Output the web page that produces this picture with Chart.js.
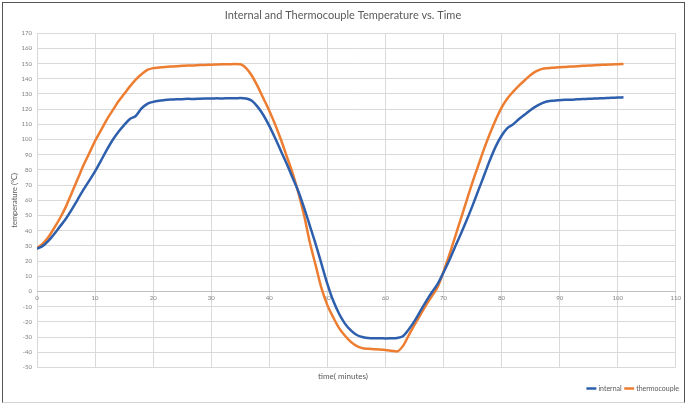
<!DOCTYPE html>
<html>
<head>
<meta charset="utf-8">
<script src="https://cdn.jsdelivr.net/npm/chart.js@4"></script>
<style>
  body { margin: 0; background: #fff; }
  #frame {
    position: absolute; left: 2px; top: 2px; width: 681px; height: 399px;
    border: 1px solid #555; border-bottom-color: #d4d4d4;
  }
</style>
</head>
<body>
<div id="frame"><canvas id="graph" width="681" height="399"></canvas></div>
<script>
// time in minutes
const minutes = [
  0, 1, 2, 3, 4, 5, 6, 7, 8, 9, 10, 11, 12, 13, 14, 15, 16, 17, 18, 19, 20,
  21, 22, 23, 24, 25, 26, 27, 28, 29, 30, 31, 32, 33, 34, 35, 36, 37, 38, 39, 40,
  41, 42, 43, 44, 45, 46, 47, 48, 49, 50, 51, 52, 53, 54, 55, 56, 57, 58, 59, 60,
  61, 62, 63, 64, 65, 66, 67, 68, 69, 70, 71, 72, 73, 74, 75, 76, 77, 78, 79, 80,
  81, 82, 83, 84, 85, 86, 87, 88, 89, 90, 91, 92, 93, 94, 95, 96, 97, 98, 99, 100, 101
];

const internal = [
  28, 30, 33.5, 38, 43, 48, 54, 60.5, 67, 73, 79,
  86, 93, 99.5, 105, 109.5, 113.5, 115.5, 120.5, 123.5, 124.8,
  125.6, 126, 126.3, 126.5, 126.6, 126.8, 126.7, 126.9, 127, 127,
  127.1, 127, 127.2, 127.2, 127.3, 127, 125.5, 121.5, 116, 109,
  101, 92.5, 84, 75, 66, 55, 43, 31, 18, 5,
  -6, -14.5, -21, -25.5, -28.5, -30, -30.6, -30.8, -30.8, -30.9,
  -30.8, -30.6, -29.5, -25, -19.5, -13, -6.5, -0.5, 5, 12.5,
  20.5, 29.5, 38, 47, 56.5, 66.5, 76.5, 86.5, 95.5, 102.5,
  107.5, 110, 113.5, 116.5, 119.5, 122, 124, 125.2, 125.6, 125.9,
  126.2, 126.2, 126.5, 126.7, 126.8, 127, 127.1, 127.3, 127.5, 127.6, 127.8
];

const thermocouple = [
  28.5, 31.5, 36, 42, 48.5, 56, 65, 74, 83, 91, 99,
  106, 113, 119, 125, 130, 135, 139.5, 143, 145.8, 147,
  147.4, 147.8, 148, 148.3, 148.5, 148.7, 148.8, 149, 149.1, 149.3,
  149.4, 149.5, 149.6, 149.7, 149.5, 147, 142, 135, 127, 119,
  110, 100, 89, 78, 65, 50, 32, 17, 2, -9,
  -17, -24, -29, -33, -35.8, -37.3, -37.8, -38, -38.2, -38.5,
  -39, -39.5, -36, -29, -22, -15.5, -9, -3, 3, 13,
  24, 36, 48, 60, 72, 83, 94, 104, 113, 121,
  127, 131.5, 135.5, 139, 142.5, 145, 146.5, 147, 147.3, 147.6,
  147.8, 148, 148.3, 148.5, 148.7, 148.9, 149.1, 149.3, 149.4, 149.6, 149.7
];

const textGrey = "#595959";
const gridGrey = "#d9d9d9";

function toPoints(values) {
  return values.map((v, i) => ({ x: minutes[i], y: v }));
}

const ctx = document.getElementById("graph").getContext("2d");
const myChart = new Chart(ctx, {
  type: "line",
  data: {
    datasets: [
      {
        label: "internal",
        data: toPoints(internal),
        borderColor: "#2e5fad",
        backgroundColor: "#2e5fad",
        borderWidth: 2.5,
        pointRadius: 0,
        cubicInterpolationMode: "monotone"
      },
      {
        label: "thermocouple",
        data: toPoints(thermocouple),
        borderColor: "#ed7d31",
        backgroundColor: "#ed7d31",
        borderWidth: 2.5,
        pointRadius: 0,
        cubicInterpolationMode: "monotone"
      }
    ]
  },
  options: {
    responsive: false,
    animation: false,
    layout: { padding: { left: 0, right: 1, top: 0, bottom: 0 } },
    scales: {
      x: {
        type: "linear",
        position: { y: 0 },
        min: 0,
        max: 110,
        ticks: { stepSize: 10, padding: 3, color: "#7f7f7f", font: { family: "Lato", size: 6 } },
        grid: { color: gridGrey, drawTicks: false },
        border: { color: "#bfbfbf" }
      },
      y: {
        min: -50,
        max: 170,
        ticks: { stepSize: 10, padding: 5, color: "#7f7f7f", font: { family: "Lato", size: 6 } },
        grid: { color: gridGrey, drawTicks: false },
        border: { display: false },
        title: {
          display: true,
          text: "temperature (°C)",
          color: textGrey,
          font: { family: "Lato", size: 7.5 },
          padding: { top: 7, bottom: 0 }
        },
        afterFit: (scale) => { scale.width = 34; }
      }
    },
    plugins: {
      title: {
        display: true,
        text: "Internal and Thermocouple Temperature vs. Time",
        color: textGrey,
        font: { family: "Lato", size: 11, weight: "normal" },
        padding: { top: 6, bottom: 11 }
      },
      subtitle: {
        display: true,
        position: "bottom",
        weight: 500,
        text: "time( minutes)",
        color: textGrey,
        font: { family: "Lato", size: 8 },
        padding: { top: 4, bottom: 0 }
      },
      legend: {
        position: "bottom",
        align: "end",
        labels: {
          usePointStyle: true,
          pointStyle: "line",
          boxWidth: 14,
          padding: 4,
          color: textGrey,
          font: { family: "Lato", size: 7 }
        }
      },
      tooltip: { enabled: false }
    }
  }
});
</script>
</body>
</html>
